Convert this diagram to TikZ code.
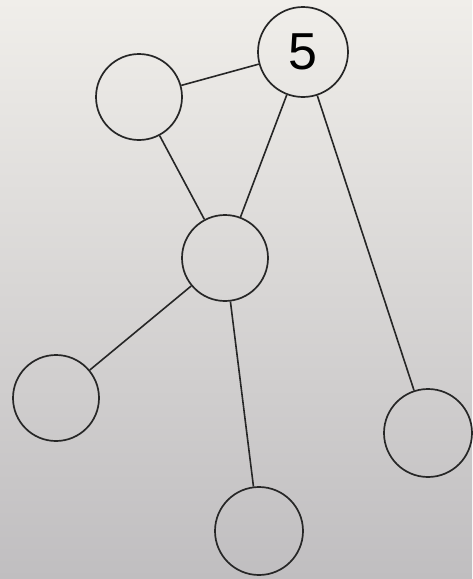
\documentclass[tikz,border=0pt]{standalone}
\usepackage{fontspec}
\setmainfont{Liberation Sans}
\begin{document}
\begin{tikzpicture}[x=1pt,y=-1pt,
  vert/.style={circle,draw=black!85,line width=1.7pt,minimum size=86pt,inner sep=0pt},
  edge/.style={draw=black!85,line width=1.6pt}]
\shade[top color={rgb,255:red,240;green,238;blue,234},bottom color={rgb,255:red,192;green,190;blue,192}] (0,0) rectangle (472,579);
\useasboundingbox (0,0) rectangle (472,579);
\node[vert,minimum size=90pt,font=\fontsize{52}{52}\selectfont] (five) at (303,52) {5};
\node[vert] (lt) at (139,97) {};
\node[vert] (mid) at (225,258) {};
\node[vert] (lb) at (56,398) {};
\node[vert,minimum size=88pt] (rb) at (428,433) {};
\node[vert,minimum size=88pt] (bot) at (259,531) {};
\draw[edge] (lt) -- (five);
\draw[edge] (lt) -- (mid);
\draw[edge] (five) -- (mid);
\draw[edge] (five) -- (rb);
\draw[edge] (mid) -- (lb);
\draw[edge] (mid) -- (bot);
\end{tikzpicture}
\end{document}
